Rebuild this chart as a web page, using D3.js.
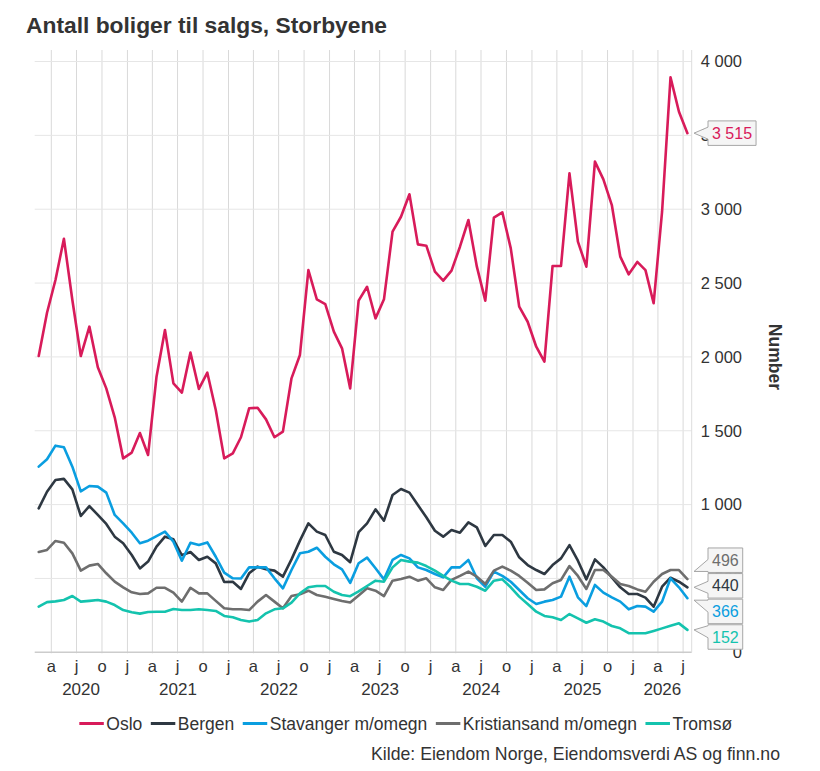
<!DOCTYPE html>
<html>
<head>
<meta charset="utf-8">
<script src="https://cdn.jsdelivr.net/npm/d3@7"></script>
<style>
  html, body { margin: 0; padding: 0; background: #fff; }
  svg { display: block; }
  text { font-family: "Liberation Sans", Arial, sans-serif; }
</style>
</head>
<body>
<svg id="chart" width="820" height="771"></svg>
<script>
// ---------- DATA ----------
const seriesNames = ["Oslo", "Bergen", "Stavanger m/omegn", "Kristiansand m/omegn", "Tromsø"];
const seriesColors = ["#d81b5a", "#2e3842", "#0a9ee0", "#6e6e6e", "#14c3ae"];
const firstMonth = [2020, 1]; // February 2020 (month index 1)

const oslo = [2006, 2299, 2521, 2800, 2385, 2006, 2205, 1930, 1787, 1591, 1313, 1352, 1485, 1336, 1866, 2182,
  1821, 1758, 2029, 1783, 1893, 1641, 1313, 1347, 1456, 1652, 1656, 1577, 1456, 1494, 1855, 2013,
  2588, 2390, 2358, 2171, 2058, 1787, 2381, 2475, 2261, 2390, 2848, 2949, 3101, 2762, 2753, 2577,
  2516, 2584, 2746, 2927, 2611, 2381, 2943, 2979, 2735, 2340, 2238, 2069, 1968, 2616, 2616, 3243,
  2780, 2611, 3322, 3202, 3028, 2679, 2559, 2643, 2588, 2363, 2983, 3893, 3660, 3515];
const bergen = [975, 1087, 1167, 1174, 1103, 923, 990, 930, 869, 783, 738, 659, 568, 614, 715, 783,
  765, 657, 679, 625, 647, 602, 476, 478, 429, 535, 580, 562, 553, 512, 629, 756,
  873, 817, 794, 681, 659, 610, 813, 873, 968, 891, 1065, 1106, 1081, 997, 914, 823,
  783, 828, 810, 880, 846, 720, 794, 794, 749, 643, 591, 557, 530, 591, 636, 726,
  620, 494, 629, 575, 507, 440, 395, 395, 370, 309, 444, 505, 478, 440];
const stavanger = [1257, 1307, 1399, 1388, 1257, 1090, 1126, 1122, 1081, 930, 873, 810, 738, 756, 787, 817,
  749, 620, 742, 726, 744, 647, 539, 501, 500, 575, 575, 575, 501, 433, 557, 670,
  681, 708, 647, 596, 562, 470, 603, 641, 569, 494, 625, 659, 636, 575, 557, 530,
  507, 575, 575, 625, 501, 444, 546, 517, 478, 422, 366, 327, 343, 354, 377, 512,
  372, 313, 456, 404, 372, 343, 291, 313, 309, 275, 343, 501, 440, 366];
const kristiansand = [679, 693, 754, 742, 670, 553, 587, 598, 535, 478, 440, 406, 395, 399, 437, 437,
  404, 343, 437, 399, 399, 348, 298, 291, 291, 286, 343, 388, 343, 298, 381, 393,
  417, 388, 376, 361, 348, 337, 385, 433, 417, 381, 485, 496, 512, 485, 501, 440,
  422, 490, 517, 546, 512, 462, 553, 580, 553, 517, 471, 422, 426, 467, 490, 584,
  517, 429, 557, 557, 512, 462, 449, 426, 410, 478, 530, 557, 557, 496];
const tromso = [309, 340, 345, 354, 381, 343, 348, 354, 343, 320, 286, 271, 262, 273, 275, 275,
  293, 286, 286, 291, 286, 280, 246, 237, 219, 208, 219, 264, 291, 298, 336, 399,
  440, 449, 449, 410, 388, 380, 412, 449, 485, 478, 575, 625, 614, 607, 584, 553,
  517, 485, 462, 462, 444, 417, 485, 494, 440, 377, 327, 275, 246, 237, 219, 259,
  230, 200, 224, 208, 178, 162, 129, 129, 129, 145, 162, 180, 196, 152];

const yTicks = [0, 500, 1000, 1500, 2000, 2500, 3000, 3500, 4000];
const monthLetters = { 0: "j", 3: "a", 6: "j", 9: "o" };
const titleText = "Antall boliger til salgs, Storbyene";
const yAxisTitle = "Number";
const sourceText = "Kilde: Eiendom Norge, Eiendomsverdi AS og finn.no";

const allValues = [oslo, bergen, stavanger, kristiansand, tromso];

// ---------- LAYOUT ----------
const W = 820, H = 771;
const plot = { left: 34.7, right: 691.7, top: 50, bottom: 652.3 };
const TXT = "#333333";

const svg = d3.select("#chart");
svg.append("rect").attr("width", W).attr("height", H).attr("fill", "#fff");

// month-midpoint dates
function monthMid(i) {
  const s = new Date(firstMonth[0], firstMonth[1] + i, 1);
  const e = new Date(firstMonth[0], firstMonth[1] + i + 1, 1);
  return new Date((s.getTime() + e.getTime()) / 2);
}
const n = oslo.length;
const dates = d3.range(n).map(monthMid);
const domainStart = new Date(firstMonth[0], firstMonth[1], 1);
const domainEnd = new Date(firstMonth[0], firstMonth[1] + n, 1);

const x = d3.scaleTime().domain([domainStart, domainEnd]).range([plot.left, plot.right]);
const y = d3.scaleLinear().domain([0, 4078]).range([plot.bottom, plot.top]);

const loc = d3.formatLocale({ decimal: ",", thousands: " ", grouping: [3], currency: ["", ""] });
const fmt = loc.format(",d");

// ---------- GRID ----------
const quarterTicks = d3.timeMonth.every(3).range(domainStart, domainEnd).filter(d => d > domainStart);
const grid = svg.append("g");
grid.selectAll("line.v").data(quarterTicks).join("line")
  .attr("x1", d => x(d)).attr("x2", d => x(d))
  .attr("y1", plot.top).attr("y2", plot.bottom + 1)
  .attr("stroke", "#d9d9d9").attr("stroke-width", 1);
grid.selectAll("line.h").data(yTicks).join("line")
  .attr("x1", plot.left).attr("x2", plot.right)
  .attr("y1", d => y(d)).attr("y2", d => y(d))
  .attr("stroke", d => d === 0 ? "#cccccc" : "#e6e6e6")
  .attr("stroke-width", d => d === 0 ? 1.5 : 1);
grid.append("line")
  .attr("x1", plot.right).attr("x2", plot.right)
  .attr("y1", plot.top).attr("y2", plot.bottom)
  .attr("stroke", "#dddddd").attr("stroke-width", 1);

// ---------- AXES ----------
const yAxis = svg.append("g");
yAxis.selectAll("text").data(yTicks).join("text")
  .attr("x", 742).attr("y", d => y(d)).attr("dy", "0.35em")
  .attr("text-anchor", "end")
  .attr("font-size", 16.5).attr("fill", TXT)
  .text(d => fmt(d));

svg.append("text")
  .attr("transform", `translate(775,${(y(4000) + plot.bottom) / 2}) rotate(90)`)
  .attr("text-anchor", "middle").attr("dy", "0.35em")
  .attr("font-size", 17.5).attr("font-weight", "bold").attr("fill", TXT)
  .text(yAxisTitle);

const xAxis = svg.append("g");
xAxis.selectAll("text.m").data(quarterTicks).join("text")
  .attr("x", d => x(d)).attr("y", 672)
  .attr("text-anchor", "middle").attr("font-size", 16.5).attr("fill", TXT)
  .text(d => monthLetters[d.getMonth()]);

const years = d3.range(domainStart.getFullYear(), domainEnd.getFullYear() + 1)
  .filter(yr => new Date(yr, 0, 1) < domainEnd);
xAxis.selectAll("text.y").data(years).join("text")
  .attr("x", yr => {
    const a = Math.max(x(new Date(yr, 0, 1)), plot.left);
    const b = Math.min(x(new Date(yr + 1, 0, 1)), plot.right);
    return (a + b) / 2;
  })
  .attr("y", 695)
  .attr("text-anchor", "middle").attr("font-size", 17).attr("fill", TXT)
  .text(yr => yr);

// ---------- LINES ----------
const line = d3.line().x((d, i) => x(dates[i])).y(d => y(d));
const lines = svg.append("g");
allValues.forEach((vals, k) => {
  lines.append("path").datum(vals)
    .attr("d", line)
    .attr("fill", "none").attr("stroke", seriesColors[k])
    .attr("stroke-width", 2.6).attr("stroke-linejoin", "round").attr("stroke-linecap", "round");
});

// ---------- END LABELS (callouts) ----------
const boxH = 24.5, pitch = 25.6, boxX = 708, tipX = 694;
let items = allValues.map((vals, k) => ({ k, v: vals[n - 1], target: y(vals[n - 1]) }))
  .sort((a, b) => a.target - b.target);
let groups = items.map(it => ({ items: [it] }));
function placeGroup(g) {
  const mean = d3.mean(g.items, d => d.target);
  g.start = mean - (g.items.length - 1) * pitch / 2;
  g.items.forEach((it, j) => it.c = g.start + j * pitch);
}
groups.forEach(placeGroup);
let merged = true;
while (merged) {
  merged = false;
  for (let i = 0; i < groups.length - 1; i++) {
    const a = groups[i], b = groups[i + 1];
    const aLast = a.items[a.items.length - 1].c;
    if (aLast + pitch > b.items[0].c) {
      a.items = a.items.concat(b.items);
      groups.splice(i + 1, 1);
      placeGroup(a);
      merged = true;
      break;
    }
  }
}
const labels = svg.append("g");
items.forEach(it => {
  const g = labels.append("g");
  const t = g.append("text")
    .attr("y", it.c).attr("dy", "0.35em")
    .attr("font-size", 16).attr("fill", seriesColors[it.k])
    .text(fmt(it.v));
  const tw = t.node().getComputedTextLength();
  const top = it.c - boxH / 2, bot = it.c + boxH / 2;
  const x0 = boxX, x1 = boxX + tw + 8;
  const tipY = Math.max(top + 1, Math.min(bot - 1, it.target));
  let b1 = Math.max(top + 1, Math.min(bot - 13, tipY - 6));
  let b2 = b1 + 12;
  const p = `M${x0},${top}L${x1},${top}L${x1},${bot}L${x0},${bot}L${x0},${b2}L${tipX},${tipY}L${x0},${b1}Z`;
  g.insert("path", "text").attr("d", p)
    .attr("fill", "#f5f5f5").attr("stroke", "#a6a6a6").attr("stroke-width", 1);
  t.attr("x", x0 + 4);
});

// ---------- TITLE ----------
svg.append("text")
  .attr("x", 26).attr("y", 32.5)
  .attr("font-size", 22.8).attr("font-weight", "bold").attr("fill", TXT)
  .text(titleText);

// ---------- LEGEND ----------
const legend = svg.append("g");
let cx = 0;
seriesNames.forEach((name, k) => {
  const g = legend.append("g");
  g.append("line").attr("x1", cx).attr("x2", cx + 24.5).attr("y1", 723.5).attr("y2", 723.5)
    .attr("stroke", seriesColors[k]).attr("stroke-width", 3);
  const t = g.append("text").attr("x", cx + 27).attr("y", 729.5)
    .attr("font-size", 17.5).attr("fill", TXT).text(name);
  cx += 27 + t.node().getComputedTextLength() + 8.5;
});
const legendW = cx - 8.5;
legend.attr("transform", `translate(${405.7 - legendW / 2},0)`);

// ---------- SOURCE ----------
svg.append("text")
  .attr("x", 780).attr("y", 760)
  .attr("text-anchor", "end").attr("font-size", 17.7).attr("fill", TXT)
  .text(sourceText);
</script>
</body>
</html>
